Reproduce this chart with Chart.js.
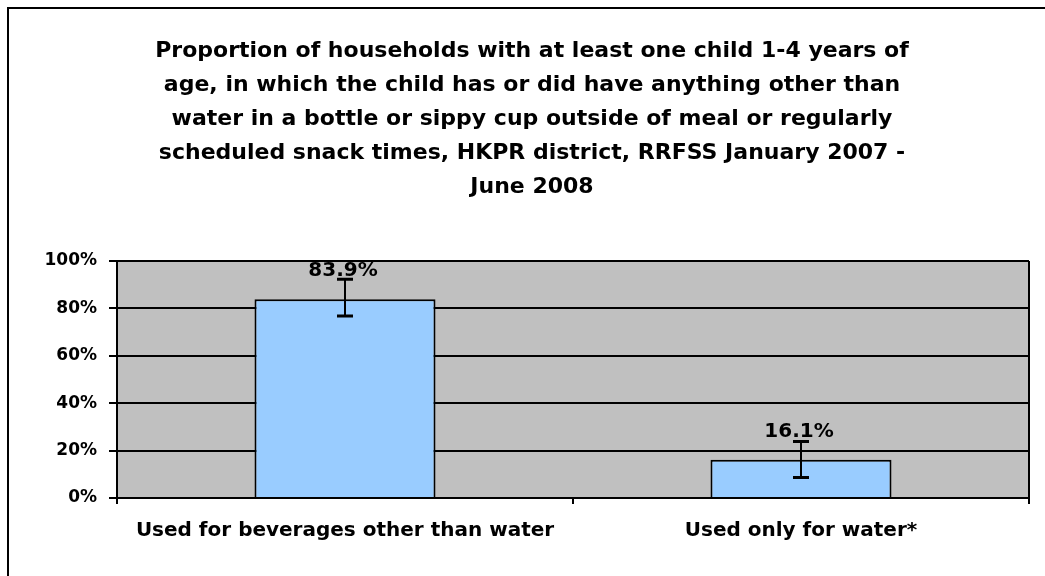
<!DOCTYPE html>
<html>
<head>
<meta charset="utf-8">
<script src="https://cdn.jsdelivr.net/npm/chart.js@4"></script>
<style>
  html, body { margin: 0; padding: 0; background: #fff; }
  #wrap { position: absolute; left: 0; top: 0; width: 1045px; height: 576px; }
</style>
</head>
<body>
<div id="wrap"><canvas id="c" width="1045" height="576"></canvas></div>
<script>
const titleLines = [
  'Proportion of households with at least one child 1-4 years of',
  'age, in which the child has or did have anything other than',
  'water in a bottle or sippy cup outside of meal or regularly',
  'scheduled snack times, HKPR district, RRFSS January 2007 -',
  'June 2008'
];
const categories = ['Used for beverages other than water', 'Used only for water*'];
const values = [83.9, 16.1];
const ciLower = [76.8, 8.6];
const ciUpper = [92.3, 23.8];
const valueLabels = ['83.9%', '16.1%'];
const yMin = 0, yMax = 100, yStep = 20;

const FONT = "'DejaVu Sans', 'Liberation Sans', Arial, sans-serif";

const framePlugin = {
  id: 'frame',
  beforeDraw(chart) {
    const ctx = chart.ctx;
    const a = chart.chartArea;
    ctx.save();
    ctx.fillStyle = '#ffffff';
    ctx.fillRect(0, 0, chart.width, chart.height);
    ctx.strokeStyle = '#000';
    ctx.lineWidth = 2;
    ctx.strokeRect(8, 8, 3000, 3000);
    ctx.fillStyle = '#C0C0C0';
    ctx.fillRect(a.left, a.top, a.right - a.left, a.bottom - a.top);
    // title
    ctx.fillStyle = '#000';
    ctx.font = "bold 22px " + FONT;
    ctx.textAlign = 'center';
    ctx.textBaseline = 'alphabetic';
    titleLines.forEach((line, i) => {
      ctx.fillText(line, 532, 57 + 34 * i);
    });
    ctx.restore();
  },
  afterDraw(chart) {
    const ctx = chart.ctx;
    const a = chart.chartArea;
    ctx.save();
    ctx.strokeStyle = '#000';
    ctx.lineWidth = 2;
    ctx.beginPath();
    ctx.moveTo(a.right, a.top);
    ctx.lineTo(a.right, a.bottom);
    ctx.stroke();
    ctx.restore();
  }
};

const errorPlugin = {
  id: 'errorbars',
  afterDatasetsDraw(chart) {
    const ctx = chart.ctx;
    const yScale = chart.scales.y;
    const meta = chart.getDatasetMeta(0);
    ctx.save();
    ctx.fillStyle = '#000';
    ctx.font = "bold 20px " + FONT;
    ctx.textAlign = 'center';
    ctx.textBaseline = 'middle';
    meta.data.forEach((bar, i) => {
      ctx.fillText(valueLabels[i], bar.x - 2, bar.y - 28);
    });
    ctx.strokeStyle = '#000';
    meta.data.forEach((bar, i) => {
      const yHi = yScale.getPixelForValue(ciUpper[i]);
      const yLo = yScale.getPixelForValue(ciLower[i]);
      ctx.lineWidth = 2;
      ctx.beginPath();
      ctx.moveTo(bar.x, yHi);
      ctx.lineTo(bar.x, yLo);
      ctx.stroke();
      ctx.lineWidth = 3;
      ctx.beginPath();
      ctx.moveTo(bar.x - 8, yHi);
      ctx.lineTo(bar.x + 8, yHi);
      ctx.moveTo(bar.x - 8, yLo);
      ctx.lineTo(bar.x + 8, yLo);
      ctx.stroke();
    });
    ctx.restore();
  }
};

new Chart(document.getElementById('c'), {
  type: 'bar',
  data: {
    labels: categories,
    datasets: [{
      data: values,
      backgroundColor: '#99CCFF',
      borderColor: '#000',
      borderWidth: 2,
      barPercentage: 0.397,
      categoryPercentage: 1.0
    }]
  },
  options: {
    responsive: false,
    animation: false,
    devicePixelRatio: 1,
    layout: { padding: { left: 0, right: 16, top: 261, bottom: 0 } },
    plugins: {
      legend: { display: false },
      tooltip: { enabled: false },
      title: { display: false }
    },
    scales: {
      x: {
        afterFit(scale) { scale.height = 78; },
        grid: {
          display: true,
          offset: true,
          drawOnChartArea: false,
          drawTicks: true,
          tickLength: 6,
          color: '#000',
          lineWidth: 2
        },
        border: { display: true, color: '#000', width: 2 },
        ticks: {
          color: '#000',
          padding: 15,
          maxRotation: 0,
          autoSkip: false,
          font: { family: FONT, size: 20, weight: 'bold' }
        }
      },
      y: {
        min: yMin,
        max: yMax,
        afterFit(scale) { scale.width = 117; },
        grid: {
          color: '#000',
          lineWidth: 2,
          drawTicks: true,
          tickLength: 8
        },
        border: { display: true, color: '#000', width: 2 },
        ticks: {
          stepSize: yStep,
          color: '#000',
          padding: 12,
          font: { family: FONT, size: 17, weight: 'bold' },
          callback: (v) => v + '%'
        }
      }
    }
  },
  plugins: [framePlugin, errorPlugin]
});
</script>
</body>
</html>
